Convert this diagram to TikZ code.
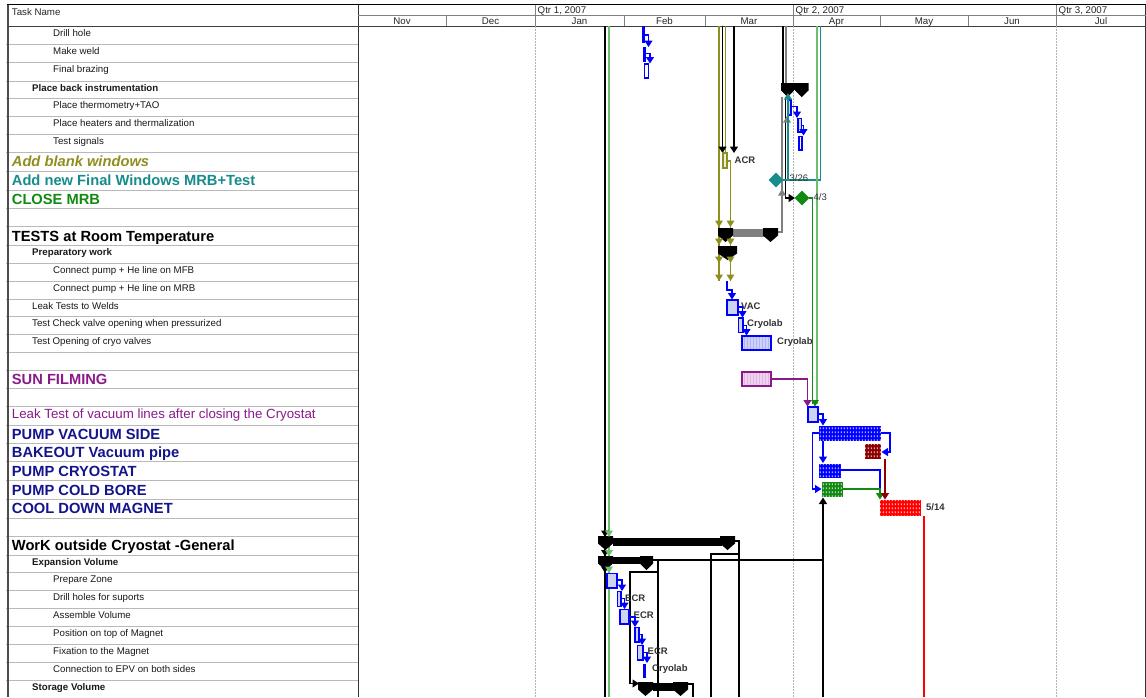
\documentclass[tikz,border=0pt]{standalone}
\usepackage{fontspec}
\setmainfont{Liberation Sans}
\usetikzlibrary{patterns,arrows.meta,shapes.geometric}
\definecolor{olv}{HTML}{8F8F1F}
\definecolor{tl}{HTML}{168C8C}
\definecolor{grn}{HTML}{128A12}
\definecolor{lgrn}{HTML}{6CBF6C}
\definecolor{prp}{HTML}{8A1A8A}
\definecolor{nvy}{HTML}{14148C}
\definecolor{drd}{HTML}{8C0000}
\definecolor{lbfill}{HTML}{CDD3F3}
\definecolor{pnk}{HTML}{F2D0F2}
\pgfdeclarepatternformonly{ganttdots}{\pgfpointorigin}{\pgfqpoint{3pt}{4pt}}{\pgfqpoint{3pt}{4pt}}{%
  \pgfpathrectangle{\pgfqpoint{1pt}{1pt}}{\pgfqpoint{1.1pt}{2.2pt}}\pgfusepath{fill}}
\newcommand\DnTip[3]{\fill[#3] (#1-4,#2-6.5) -- (#1+4,#2-6.5) -- (#1,#2) -- cycle;}
\newcommand\UpTip[3]{\fill[#3] (#1-4,#2+6.5) -- (#1+4,#2+6.5) -- (#1,#2) -- cycle;}
\newcommand\SumCap[3]{\fill[black] (#1,#3) -- (#2,#3) -- (#2,#3+7.5) -- ({(#1+#2)/2},#3+14) -- (#1,#3+7.5) -- cycle;}
\begin{document}
\begin{tikzpicture}[x=1pt,y=-1pt,
  sm/.style={font=\fontsize{9.7}{11}\selectfont, text=black!90, anchor=base west, inner sep=0},
  smb/.style={font=\fontsize{9.7}{11}\selectfont\bfseries, text=black!90, anchor=base west, inner sep=0},
  big/.style={font=\fontsize{14.7}{17}\selectfont\bfseries, anchor=base west, inner sep=0},
  lab/.style={font=\fontsize{9.5}{11}\selectfont\bfseries, anchor=west, inner sep=0, text=black!80},
  hdr/.style={font=\fontsize{9.7}{11}\selectfont, text=black!85, inner sep=0},
  rowline/.style={draw=gray!55, line width=0.7pt},
  cn/.style={line width=1.1pt},
  arr/.style={-{Triangle[length=6.5pt,width=8pt]}},
  ms/.style={diamond, aspect=1, inner sep=0, minimum size=15pt},
  hatch/.style={pattern=ganttdots, pattern color=white}
]
\useasboundingbox (0,0) rectangle (1146,697);
\fill[white] (0,0) rectangle (1146,697);

% ---------- table grid ----------
\foreach \yy in {44.3,62.7,81,98.7,116.7,134.7,152.7,171.3,190,208.7,226.7,245,263.3,281,299,316.7,334.3,352.3,370,388.3,406.7,425,443.3,461.7,480.7,499.3,518.3,536,555,572.7,590.7,608.7,626.7,644.7,662.7,680.7}
  \draw[rowline] (6,\yy) -- (358,\yy);
\draw[black!70, line width=1.2pt] (8,4.5) -- (8,697);
\draw[black!80, line width=1pt] (358,4.5) -- (358,697);
\draw[black!80, line width=1pt] (1145.5,4.5) -- (1145.5,697);
\draw[black, line width=1.5pt] (7,4.5) -- (1146,4.5);
\draw[gray, line width=0.7pt] (358,15.7) -- (1146,15.7);
\draw[black!75, line width=1pt] (8,26.3) -- (1146,26.3);
\foreach \xx in {535,793,1056} \draw[gray, line width=0.7pt] (\xx,4.5) -- (\xx,26.3);
\foreach \xx in {446,624,705,880,968} \draw[gray, line width=0.7pt] (\xx,15.7) -- (\xx,26.3);
\foreach \xx in {535,793,1056} \draw[gray!60, line width=0.7pt, dash pattern=on 1.5pt off 1.5pt] (\xx,26.3) -- (\xx,697);

% ---------- header text ----------
\node[hdr, anchor=base west] (hTask) at (11.7,15) {Task Name};
\node[hdr, anchor=base west] (hQ1) at (537.5,13.5) {Qtr 1, 2007};
\node[hdr, anchor=base west] (hQ2) at (795.5,13.5) {Qtr 2, 2007};
\node[hdr, anchor=base west] (hQ3) at (1058.5,13.5) {Qtr 3, 2007};
\node[hdr, anchor=base] (mNov) at (402,24.8) {Nov};
\node[hdr, anchor=base] (mDec) at (490.5,24.8) {Dec};
\node[hdr, anchor=base] (mJan) at (579.5,24.8) {Jan};
\node[hdr, anchor=base] (mFeb) at (664.5,24.8) {Feb};
\node[hdr, anchor=base] (mMar) at (749,24.8) {Mar};
\node[hdr, anchor=base] (mApr) at (836.5,24.8) {Apr};
\node[hdr, anchor=base] (mMay) at (924,24.8) {May};
\node[hdr, anchor=base] (mJun) at (1012,24.8) {Jun};
\node[hdr, anchor=base] (mJul) at (1101,24.8) {Jul};

% ---------- task names ----------
\node[sm] (t1) at (53,36.3) {Drill hole};
\node[sm] (t2) at (53,54.5) {Make weld};
\node[sm] (t3) at (53,72.8) {Final brazing};
\node[smb] (t4) at (32,91) {Place back instrumentation};
\node[sm] (t5) at (53,108.8) {Place thermometry+TAO};
\node[sm] (t6) at (53,126.8) {Place heaters and thermalization};
\node[sm] (t7) at (53,144.8) {Test signals};
\node[big, text=olv, font=\fontsize{14.7}{17}\selectfont\bfseries\itshape] (t8) at (11.7,166.8) {Add blank windows};
\node[big, text=tl] (t9) at (11.7,185.5) {Add new Final Windows MRB+Test};
\node[big, text=grn] (t10) at (11.7,204) {CLOSE MRB};
\node[big, text=black] (t12) at (11.7,241.5) {TESTS at Room Temperature};
\node[smb] (t13) at (32,255.2) {Preparatory work};
\node[sm] (t14) at (53,273) {Connect pump + He line on MFB};
\node[sm] (t15) at (53,291) {Connect pump + He line on MRB};
\node[sm] (t16) at (32,309) {Leak Tests to Welds};
\node[sm] (t17) at (32,326.7) {Test Check valve opening when pressurized};
\node[sm] (t18) at (32,344.3) {Test Opening of cryo valves};
\node[big, text=prp] (t20) at (11.7,384.3) {SUN FILMING};
\node[big, text=prp, font=\fontsize{13.3}{16}\selectfont] (t22) at (11.7,418.5) {Leak Test of vacuum lines after closing the Cryostat};
\node[big, text=nvy] (t23) at (11.7,439.3) {PUMP VACUUM SIDE};
\node[big, text=nvy] (t24) at (11.7,457.6) {BAKEOUT Vacuum pipe};
\node[big, text=nvy] (t25) at (11.7,476) {PUMP CRYOSTAT};
\node[big, text=nvy] (t26) at (11.7,495) {PUMP COLD BORE};
\node[big, text=nvy] (t27) at (11.7,513.6) {COOL DOWN MAGNET};
\node[big, text=black] (t29) at (11.7,550.3) {WorK outside Cryostat -General};
\node[smb] (t30) at (32,565) {Expansion Volume};
\node[sm] (t31) at (53,582.7) {Prepare Zone};
\node[sm] (t32) at (53,600.7) {Drill holes for suports};
\node[sm] (t33) at (53,618.7) {Assemble Volume};
\node[sm] (t34) at (53,636.7) {Position on top of Magnet};
\node[sm] (t35) at (53,654.7) {Fixation to the Magnet};
\node[sm] (t36) at (53,672.7) {Connection to EPV on both sides};
\node[smb] (t37) at (32,690.7) {Storage Volume};

% ---------- long predecessor lines ----------
\draw[black, line width=2.2pt] (605,26.3) -- (605,697);
\draw[lgrn, line width=1.4pt] (608.8,26.3) -- (608.8,697);

% olive / black lines to blank windows
\draw[olv, line width=1.5pt] (719,26.3) -- (719,281);
\draw[olv, line width=1.5pt] (725.5,26.3) -- (725.5,153);
\draw[olv, line width=1.5pt] (727,161) -- (730.5,161) -- (730.5,281);
\draw[black, cn, arr] (722.5,26.3) -- (722.5,153);
\draw[black, cn, arr] (734,26.3) -- (734,153);
\draw[olv, line width=1.1pt, fill=olv!15] (723,153) rectangle (727,168);
\node[lab] (acr) at (734.5,160.5) {ACR};

% top blue tasks
\fill[blue] (642.3,26.3) rectangle (644.7,43);
\draw[blue, cn, arr] (644.5,35) -- (648.5,35) -- (648.5,47);
\fill[blue] (643.3,47) rectangle (645.7,62);
\draw[blue, cn, arr] (645.5,53.5) -- (650,53.5) -- (650,63.5);
\draw[blue, cn] (644.5,64) rectangle (648.5,78);

% place back instrumentation
\draw[black, line width=1.3pt] (783,26.3) -- (783,84);
\draw[gray, line width=1.3pt] (786,26.3) -- (786,84);
\fill[black] (792,83) rectangle (796,90);
\SumCap{781}{794}{83}
\SumCap{795}{808.5}{83}
\draw[black, cn, arr] (785.5,97) -- (785.5,198) -- (795,198);
\draw[gray, cn] (782,97) -- (782,232) -- (778,232);
\UpTip{787}{116}{gray}
\UpTip{782}{189}{gray}
\draw[blue, cn, fill=lbfill] (788,100) rectangle (791,115);
\draw[blue, cn, arr] (791,106.5) -- (797,106.5) -- (797,118);
\draw[blue, cn, fill=lbfill] (798,118.5) rectangle (801.5,132);
\draw[blue, cn, arr] (801.5,125.5) -- (803.5,125.5) -- (803.5,135.5);
\draw[blue, cn] (799,136.5) rectangle (802,150);

% milestones
\draw[tl, cn] (783,180) -- (820.5,180) -- (820.5,26.3);
\draw[tl, cn, arr] (788,180) -- (788,93);
\node[ms, fill=tl] (ms1) at (776,180) {};
\node[lab, font=\fontsize{9.5}{11}\selectfont] (l326) at (789.5,178) {3/26};
\draw[lgrn, line width=1.4pt] (817,26.3) -- (817,404);
\draw[grn, line width=1.6pt] (809,198) -- (812.5,198) -- (812.5,404);
\node[ms, fill=grn] (ms2) at (802,198) {};
\node[lab, font=\fontsize{9.5}{11}\selectfont] (l43) at (813.5,197) {4/3};

% tests at room temperature
\fill[gray] (733,229) rectangle (765,236.5);
\SumCap{718}{733}{228}
\SumCap{763}{778}{228}
\SumCap{718}{737}{246}
\foreach \yy in {227,245,263,281} {\DnTip{719}{\yy}{olv} \DnTip{730.5}{\yy}{olv}}

\draw[blue, cn, arr] (727,281) -- (727,290) -- (732,290) -- (732,299.5);
\draw[blue, cn, fill=lbfill] (727,300) rectangle (738,315);
\node[lab] (vac) at (741,306) {VAC};
\draw[blue, cn, arr] (738,307) -- (742.5,307) -- (742.5,317.5);
\draw[blue, cn, fill=lbfill] (738.5,318) rectangle (743,332.5);
\node[lab] (cry1) at (747,324) {Cryolab};
\draw[blue, cn, arr] (743,325.5) -- (746.5,325.5) -- (746.5,335.5);
\fill[lbfill] (742,336) rectangle (771,350);
\fill[pattern=vertical lines, pattern color=blue!30] (742,336) rectangle (771,350);
\draw[blue, cn] (742,336) rectangle (771,350);
\node[lab] (cry2) at (777,342) {Cryolab};

% sun filming
\fill[pnk] (742,372) rectangle (771,386);
\fill[pattern=vertical lines, pattern color=prp!30] (742,372) rectangle (771,386);
\draw[prp, cn] (742,372) rectangle (771,386);
\draw[prp, cn, arr] (771,379) -- (807.5,379) -- (807.5,406.5);
\DnTip{815}{406.5}{grn}

% vacuum / cooldown chain
\draw[blue, cn, fill=lbfill] (808,407) rectangle (818,422);
\draw[blue, cn, arr] (818,414) -- (823,414) -- (823,425.5);
\fill[blue] (819,426) rectangle (881,441);
\fill[hatch] (819,426) rectangle (881,441);
\draw[blue, cn, arr] (881,433) -- (890,433) -- (890,452) -- (881.5,452);
\draw[blue, cn, arr] (819,433) -- (812.5,433) -- (812.5,489) -- (821.5,489);
\draw[blue, cn, arr] (823,441) -- (823,463);
\fill[drd] (865,444) rectangle (881,459);
\fill[hatch] (865,444) rectangle (881,459);
\fill[blue] (819,463.5) rectangle (841,478);
\fill[hatch] (819,463.5) rectangle (841,478);
\draw[blue, cn] (841,470) -- (880,470) -- (880,489);
\fill[grn] (822,482) rectangle (843,497);
\fill[hatch] (822,482) rectangle (843,497);
\draw[grn, cn, arr] (843,489) -- (880,489) -- (880,499.5);
\draw[drd, cn, arr] (885,459) -- (885,499.5);
\fill[red] (880,500) rectangle (921,516);
\fill[hatch] (880,500) rectangle (921,516);
\node[lab] (l514) at (926,507) {5/14};
\draw[red, cn] (924,516) -- (924,697);
\draw[black, cn, arr] (823,697) -- (823,497.5);
\draw[black, cn] (653,560) -- (823,560);

% work outside cryostat
\fill[black] (613,538) rectangle (722,546);
\SumCap{598}{613}{536}
\SumCap{720}{735}{536}
\draw[black, cn] (735,541) -- (739,541) -- (739,697);
\draw[black, cn] (739,554) -- (711,554) -- (711,697);
\fill[black] (613,557) rectangle (642,564);
\SumCap{598}{613}{556}
\SumCap{640}{653}{556}
\draw[black, cn] (653,560) -- (658,560) -- (658,697);
\draw[black, cn, arr] (658,572) -- (630,572) -- (630,683.5) -- (639,683.5);
\fill[black] (653,683) rectangle (675,690.5);
\SumCap{638}{653}{682}
\SumCap{673}{688}{682}
\draw[black, cn] (688,684) -- (693,684) -- (693,697);
\DnTip{605}{537}{black}
\DnTip{605}{556.5}{black}
\DnTip{605}{573}{black}
\DnTip{609}{537}{lgrn}
\DnTip{609}{556.5}{lgrn}
\DnTip{609}{573}{lgrn}

\draw[blue, cn, fill=lbfill] (607,573.5) rectangle (617,588);
\draw[blue, cn, arr] (617,580) -- (622,580) -- (622,591);
\draw[blue, cn, fill=lbfill] (617.5,591.5) rectangle (621,606.5);
\node[lab] (ecr1) at (625,598) {ECR};
\draw[blue, cn, arr] (621,598.5) -- (624.5,598.5) -- (624.5,609);
\draw[blue, cn, fill=lbfill] (620,609.5) rectangle (629,624);
\node[lab] (ecr2) at (633.5,615.5) {ECR};
\draw[blue, cn, arr] (629,617) -- (635,617) -- (635,627);
\draw[blue, cn, fill=lbfill] (635,627.5) rectangle (639,642);
\draw[blue, cn, arr] (639,634.5) -- (642,634.5) -- (642,645);
\draw[blue, cn, fill=lbfill] (637.5,645.5) rectangle (643,660);
\node[lab] (ecr3) at (647.5,651.5) {ECR};
\draw[blue, cn, arr] (643,652.5) -- (647,652.5) -- (647,663);
\fill[blue] (643,663.5) rectangle (646,678);
\node[lab] (cry3) at (652,669) {Cryolab};
\end{tikzpicture}
\end{document}
